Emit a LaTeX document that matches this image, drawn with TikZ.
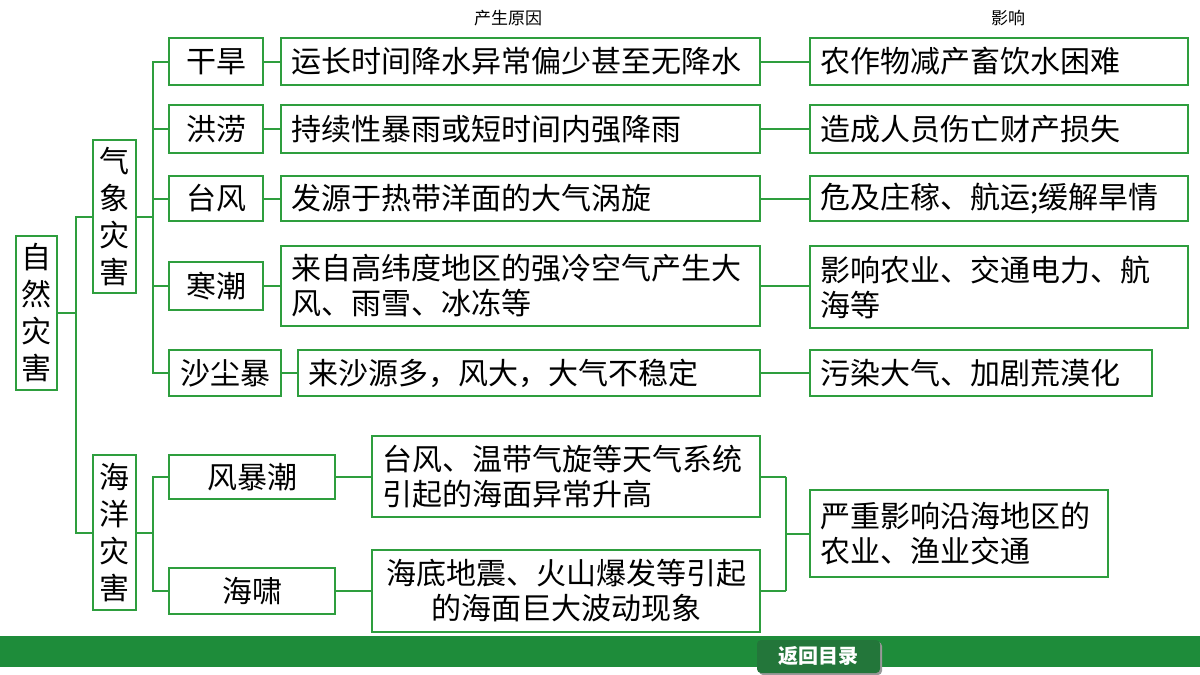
\documentclass[tikz,border=0pt]{standalone}
\usepackage{fontspec}
\setmainfont{Noto Sans CJK SC}
\usetikzlibrary{calc}
\definecolor{gb}{HTML}{2E9E3E}
\definecolor{bar}{HTML}{1E8C3A}
\definecolor{btn}{HTML}{23763A}
\begin{document}
\begin{tikzpicture}[x=0.5pt,y=-0.5pt,
  box/.style={draw=gb,line width=1pt,inner xsep=5pt,inner ysep=0pt,font=\fontsize{15}{17.5}\selectfont,align=left},
  vbox/.style={draw=gb,line width=1pt,inner sep=0pt,font=\fontsize{15}{18.5}\selectfont,align=center},
  ln/.style={draw=gb,line width=1pt}]
\useasboundingbox (0,0) rectangle (1200,675);
\fill[white] (0,0) rectangle (1200,675);
% headers
\node[font=\fontsize{8.5}{10}\selectfont] (h1) at (508,18) {产生原因};
\node[font=\fontsize{8.5}{10}\selectfont] (h2) at (1008,18) {影响};
% left
\node[vbox,minimum width=20.5pt,minimum height=77pt] (nat) at (36.5,313) {自\\然\\灾\\害};
\node[vbox,minimum width=21.5pt,minimum height=76.5pt] (qx) at (114.5,216.5) {气\\象\\灾\\害};
\node[vbox,minimum width=21.5pt,minimum height=77.5pt] (hy) at (114.5,532.5) {海\\洋\\灾\\害};
% children
\node[box,align=center,minimum width=47pt,minimum height=23.5pt] (gh) at (216,61.5) {干旱};
\node[box,align=center,minimum width=47pt,minimum height=24pt] (hl) at (216,129) {洪涝};
\node[box,align=center,minimum width=47pt,minimum height=22.5pt] (tf) at (216,198.5) {台风};
\node[box,align=center,minimum width=47pt,minimum height=24pt] (hc) at (216,286) {寒潮};
\node[box,align=center,minimum width=56pt,minimum height=23pt] (scb) at (225,373) {沙尘暴};
% causes
\node[box,text width=229.5pt,minimum height=23.5pt] (c1) at (520.5,61.5) {运长时间降水异常偏少甚至无降水};
\node[box,text width=229.5pt,minimum height=24pt] (c2) at (520.5,129) {持续性暴雨或短时间内强降雨};
\node[box,text width=229.5pt,minimum height=22.5pt] (c3) at (520.5,198.5) {发源于热带洋面的大气涡旋};
\node[box,text width=229.5pt,minimum height=40pt] (c4) at (520.5,286) {来自高纬度地区的强冷空气产生大\\风、雨雪、冰冻等};
\node[box,text width=221pt,minimum height=23pt] (c5) at (529,373) {来沙源多，风大，大气不稳定};
% effects
\node[box,text width=179pt,minimum height=23.5pt] (e1) at (999,61.5) {农作物减产畜饮水困难};
\node[box,text width=179pt,minimum height=24pt] (e2) at (999,129) {造成人员伤亡财产损失};
\node[box,text width=179pt,minimum height=22.5pt] (e3) at (999,198.5) {危及庄稼、航运;缓解旱情};
\node[box,text width=179pt,minimum height=41pt] (e4) at (999,287) {影响农业、交通电力、航\\海等};
\node[box,text width=161pt,minimum height=23pt] (e5) at (981,373) {污染大气、加剧荒漠化};
% ocean
\node[box,align=center,minimum width=83pt,minimum height=22pt] (fbc) at (252,477) {风暴潮};
\node[box,align=center,minimum width=83pt,minimum height=23pt] (hx) at (252,591) {海啸};
\node[box,text width=184pt,minimum height=40.5pt] (o1) at (566,476.5) {台风、温带气旋等天气系统\\引起的海面异常升高};
\node[box,align=center,text width=184pt,minimum height=41pt] (o2) at (566,591) {海底地震、火山爆发等引起\\的海面巨大波动现象};
\node[box,text width=139pt,minimum height=43.5pt] (oe) at (959,533.5) {严重影响沿海地区的\\农业、渔业交通};
% connectors
\draw[ln] (nat.east) -- ++(18,0) coordinate (j1);
\draw[ln] (j1) |- (qx.west);
\draw[ln] (j1) |- (hy.west);
\draw[ln] (qx.east) -- ++(16,0) coordinate (j2);
\foreach \n in {gh,hl,tf,hc,scb} \draw[ln] (j2) |- (\n.west);
\draw[ln] (hy.east) -- ++(16,0) coordinate (j3);
\draw[ln] (j3) |- (fbc.west);
\draw[ln] (j3) |- (hx.west);
\draw[ln] (gh.east) -- (c1.west);
\draw[ln] (hl.east) -- (c2.west);
\draw[ln] (tf.east) -- (c3.west);
\draw[ln] (hc.east) -- (hc.east -| c4.west);
\draw[ln] (scb.east) -- (c5.west);
\draw[ln] (c1.east) -- (e1.west);
\draw[ln] (c2.east) -- (e2.west);
\draw[ln] (c3.east) -- (e3.west);
\draw[ln] (c4.east) -- (c4.east -| e4.west);
\draw[ln] (c5.east) -- (e5.west);
\draw[ln] (fbc.east) -- (fbc.east -| o1.west);
\draw[ln] (hx.east) -- (o2.west);
\draw[ln] (o1.east) -- ++(25,0) coordinate (j4);
\draw[ln] (o2.east) -- ++(25,0) coordinate (j5);
\draw[ln] (j4) -- (j5);
\draw[ln] (j4 |- oe.west) -- (oe.west);
% bottom bar
\fill[bar] (0,636) rectangle (1200,667);
\fill[black!40,rounded corners=2pt] (759,642) rectangle (882,675);
\node[fill=btn,rounded corners=2pt,minimum width=61.5pt,minimum height=16.5pt,inner sep=0pt,text=white,font=\fontsize{10}{12}\selectfont\bfseries] (btn) at (818.5,656.5) {返回目录};
\end{tikzpicture}
\end{document}
